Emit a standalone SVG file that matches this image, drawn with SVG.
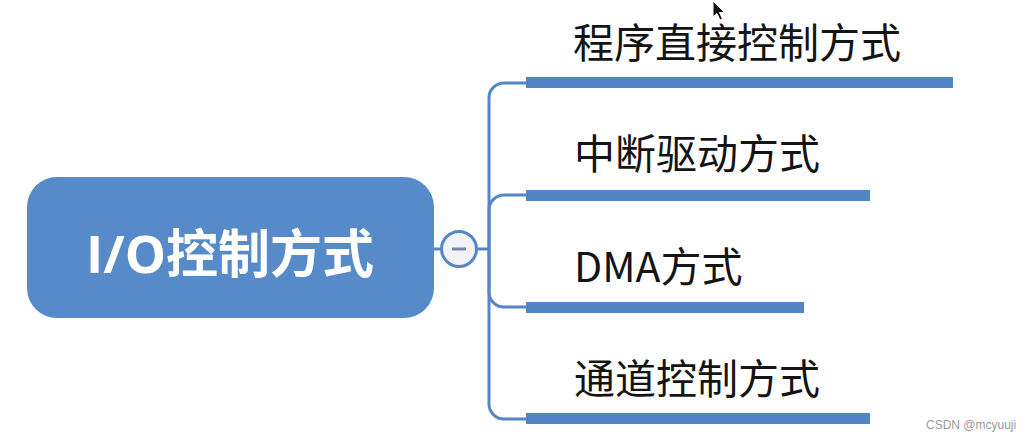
<svg xmlns="http://www.w3.org/2000/svg" width="1032" height="441" viewBox="0 0 1032 441">
<style>
.conn{fill:none;stroke:#5587c7;stroke-width:3}
.bar{fill:#5385c6}
.lbl{font-family:"Noto Sans CJK SC","Noto Sans",sans-serif;font-size:41px;fill:#141414}
.root{font-family:"Open Sans","Noto Sans CJK SC",sans-serif;font-size:52px;font-weight:bold;fill:#ffffff}
.wm{font-family:"Liberation Sans",Arial,sans-serif;font-size:12px;fill:#9a9a9a}
</style>
<rect width="1032" height="441" fill="#ffffff"/>
<g id="connectors">
<path class="conn" d="M433,249 H441"/>
<path class="conn" d="M477,249 H489"/>
<path class="conn" d="M489,249 V98 A15,15 0 0 1 504,83 H527"/>
<path class="conn" d="M489,249 V210 A15,15 0 0 1 504,195 H527"/>
<path class="conn" d="M489,249 V292 A15,15 0 0 0 504,307 H527"/>
<path class="conn" d="M489,249 V404 A15,15 0 0 0 504,419 H527"/>
</g>
<g id="root">
<rect x="27" y="177" width="407" height="141" rx="30" ry="30" fill="#578ac9"/>
<text class="root" x="230" y="273" text-anchor="middle">I/O控制方式</text>
</g>
<g id="collapse">
<circle cx="459" cy="249" r="17.5" fill="#f2f2f8" stroke="#5587c7" stroke-width="3"/>
<rect x="452" y="247.5" width="14" height="3" fill="#7d86a8"/>
</g>
<g id="n1">
<text class="lbl" x="573" y="58">程序直接控制方式</text>
<rect class="bar" x="526" y="77" width="427" height="11"/>
</g>
<g id="n2">
<text class="lbl" x="574" y="169">中断驱动方式</text>
<rect class="bar" x="526" y="190" width="344" height="11"/>
</g>
<g id="n3">
<text class="lbl" x="574" y="282">DMA方式</text>
<rect class="bar" x="526" y="302" width="278" height="11"/>
</g>
<g id="n4">
<text class="lbl" x="574" y="394">通道控制方式</text>
<rect class="bar" x="526" y="413" width="344" height="11"/>
</g>
<path d="M713,1 L713,17 L717,13.5 L720,20 L722.5,19 L719.5,12.5 L724.5,12.5 Z" fill="#111111" stroke="#ffffff" stroke-width="1"/>
<text class="wm" x="926" y="429">CSDN @mcyuuji</text>
</svg>
